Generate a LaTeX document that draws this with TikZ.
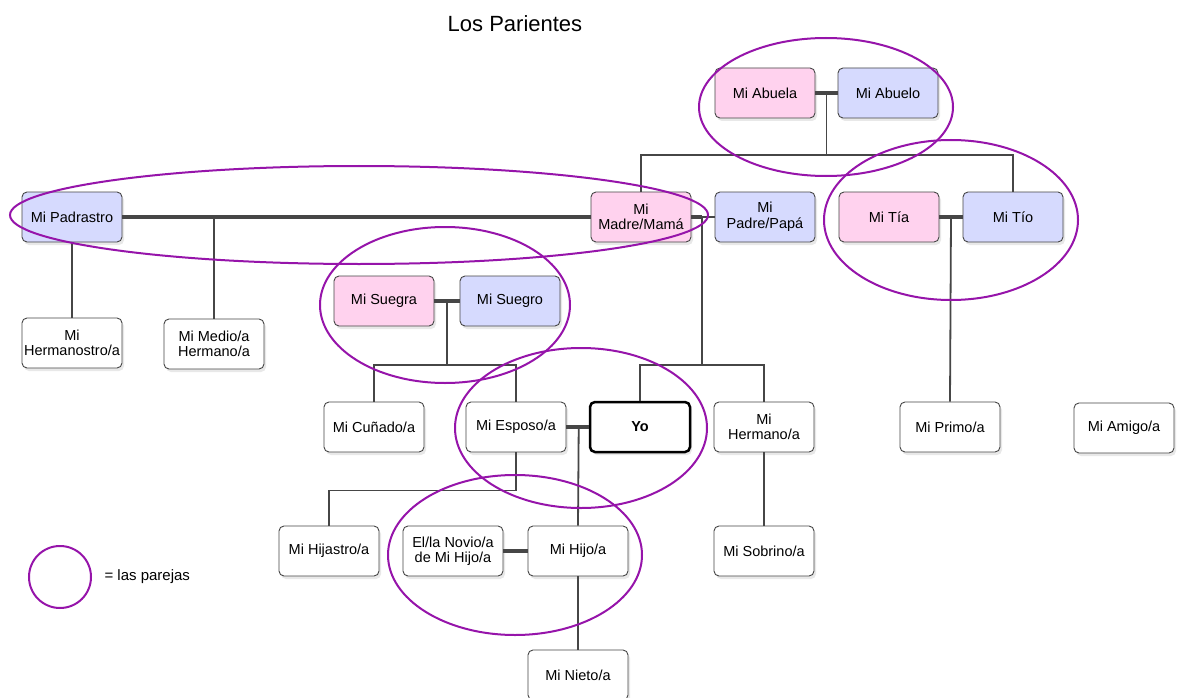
\documentclass[tikz,border=0pt]{standalone}
\usepackage{fontspec}
\setmainfont{Liberation Sans}
\usetikzlibrary{calc}
\usetikzlibrary{shadows}

\definecolor{rosa}{RGB}{255,210,238}
\definecolor{azul}{RGB}{214,218,254}
\definecolor{morado}{RGB}{150,20,170}
\definecolor{linea}{RGB}{70,70,70}

\tikzset{
  persona/.style={draw=linea, line width=0.9pt, rounded corners=5pt, fill=white,
    minimum width=100pt, minimum height=50pt, inner sep=1pt, align=center,
    font=\fontsize{14.5}{15.5}\selectfont,
    drop shadow={opacity=0.18, shadow xshift=2pt, shadow yshift=-3pt}},
  mujer/.style={persona, fill=rosa},
  hombre/.style={persona, fill=azul},
  rama/.style={draw=linea, line width=1.8pt},
  boda/.style={draw=linea, line width=3.5pt},
  pareja/.style={draw=morado, line width=2pt}
}

\begin{document}
\begin{tikzpicture}[x=1pt, y=-1pt]
  \fill[white] (0,0) rectangle (1178,698);
  \useasboundingbox (0,0) rectangle (1178,698);

  \node[font=\fontsize{22}{24}\selectfont] (titulo) at (515,24) {Los Parientes};

  % generaciones
  \node[mujer] (abuela) at (765,93) {Mi Abuela};
  \node[hombre] (abuelo) at (888,93) {Mi Abuelo};
  \node[hombre] (padrastro) at (72,217) {Mi Padrastro};
  \node[mujer] (madre) at (641,217) {Mi\\Madre/Mamá};
  \node[hombre] (padre) at (765,217) {Mi\\Padre/Papá};
  \node[mujer] (tia) at (889,217) {Mi Tía};
  \node[hombre] (tio) at (1013,217) {Mi Tío};
  \node[mujer] (suegra) at (384,301) {Mi Suegra};
  \node[hombre] (suegro) at (510,301) {Mi Suegro};
  \node[persona] (hermanastro) at (72,343) {Mi\\Hermanostro/a};
  \node[persona] (medio) at (214,344) {Mi Medio/a\\Hermano/a};
  \node[persona] (cunado) at (374,427) {Mi Cuñado/a};
  \node[persona] (esposo) at (516,427) {Mi Esposo/a};
  \node[persona, draw=black, line width=2.5pt, font=\fontsize{14.5}{15.5}\selectfont\bfseries] (yo) at (640,427) {Yo};
  \node[persona] (hermano) at (764,427) {Mi\\Hermano/a};
  \node[persona] (primo) at (950,427) {Mi Primo/a};
  \node[persona] (amigo) at (1124,428) {Mi Amigo/a};
  \node[persona] (hijastro) at (329,551) {Mi Hijastro/a};
  \node[persona] (novio) at (453,551) {El/la Novio/a\\de Mi Hijo/a};
  \node[persona] (hijo) at (578,551) {Mi Hijo/a};
  \node[persona] (sobrino) at (764,551) {Mi Sobrino/a};
  \node[persona] (nieto) at (578,675) {Mi Nieto/a};

  % abuelos
  \draw[boda] (abuela.east) -- (abuelo.west);
  \coordinate (abm) at ($(abuela.east)!0.5!(abuelo.west)$);
  \draw[rama] (abm) -- ++(0,62) coordinate (abj);
  \draw[rama] (madre.north) |- (abj) -| (tio.north);

  % padres
  \draw[boda] (padrastro.east) -- (madre.west);
  \draw[rama] (padrastro.south) -- (hermanastro.north);
  \draw[rama] (medio.north) -- (medio.north |- padrastro.east);
  \coordinate (mp) at ($(madre.east)!0.45!(padre.west)$);
  \draw[boda] (madre.east) -- (mp);
  \draw[rama] (mp) -- (padre.west);
  \draw[rama] (mp) -- ++(0,148) coordinate (mpj);
  \draw[rama] (yo.north) |- (mpj) -| (hermano.north);
  \draw[rama] (hermano.south) -- (sobrino.north);

  % tios
  \draw[boda] (tia.east) -- (tio.west);
  \coordinate (tt) at ($(tia.east)!0.5!(tio.west)$);
  \draw[rama] (tt) -- (primo.north);

  % suegros
  \draw[boda] (suegra.east) -- (suegro.west);
  \coordinate (sm) at ($(suegra.east)!0.5!(suegro.west)$);
  \draw[rama] (sm) -- ++(0,64) coordinate (smj);
  \draw[rama] (cunado.north) |- (smj) -| (esposo.north);

  % yo y mi esposo/a
  \draw[boda] (esposo.east) -- (yo.west);
  \coordinate (ey) at ($(esposo.east)!0.55!(yo.west)$);
  \draw[rama] (ey) -- (hijo.north);
  \draw[rama] (esposo.south) -- ++(0,38) -| (hijastro.north);
  \draw[boda] (novio.east) -- (hijo.west);
  \draw[rama] (hijo.south) -- (nieto.north);

  % parejas
  \draw[pareja] (826,107) ellipse [x radius=127, y radius=69];
  \draw[pareja] (951,220) ellipse [x radius=127, y radius=80];
  \draw[pareja] (359,215) ellipse [x radius=349, y radius=49];
  \draw[pareja] (445,305) ellipse [x radius=125, y radius=78];
  \draw[pareja] (581,428) ellipse [x radius=126, y radius=80];
  \draw[pareja] (515,555) ellipse [x radius=127, y radius=80];

  % leyenda
  \draw[pareja] (60,577) circle [radius=31];
  \node[anchor=west, font=\fontsize{15}{16}\selectfont] (leyenda) at (101,577) {= las parejas};
\end{tikzpicture}
\end{document}
